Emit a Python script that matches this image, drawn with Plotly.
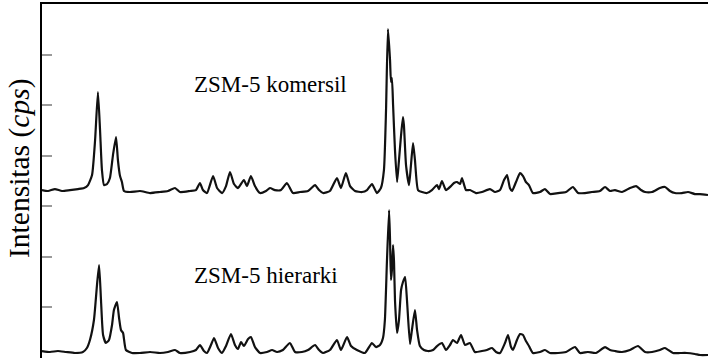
import plotly.graph_objects as go

# ZSM-5 hierarki (bottom pattern): 2-theta (deg) and intensity (cps)
two_theta_hierarki = [
    5.00, 5.42, 5.84, 6.26, 6.73, 7.15, 7.36, 7.52, 7.73, 7.89, 8.00, 8.10, 8.21, 8.36,
    8.52, 8.68, 8.78, 8.94, 9.05, 9.15, 9.26, 9.41, 9.73, 10.15, 10.68, 11.20, 11.62,
    11.99, 12.25, 12.78, 13.09, 13.30, 13.51, 13.67, 13.88, 14.04, 14.25, 14.46, 14.67,
    14.93, 15.14, 15.30, 15.46, 15.61, 15.83, 15.98, 16.19, 16.46, 16.82, 17.09, 17.35,
    17.66, 18.03, 18.30, 18.66, 18.98, 19.35, 19.56, 19.77, 20.13, 20.50, 20.71, 21.03,
    21.24, 21.55, 21.97, 22.34, 22.55, 22.76, 22.92, 23.02, 23.13, 23.24, 23.29, 23.34,
    23.39, 23.45, 23.50, 23.55, 23.66, 23.76, 23.87, 23.97, 24.08, 24.18, 24.34, 24.44,
    24.60, 24.71, 24.86, 25.07, 25.28, 25.55, 25.76, 26.02, 26.23, 26.44, 26.60, 26.81,
    27.02, 27.23, 27.49, 27.75, 28.12, 28.38, 28.65, 28.86, 29.07, 29.33, 29.49, 29.65,
    29.75, 29.96, 30.12, 30.28, 30.43, 30.59, 30.80, 31.17, 31.43, 31.70, 32.12, 32.54,
    33.01, 33.27, 33.69, 34.11, 34.59, 34.85, 35.11, 35.48, 35.90, 36.32, 36.69, 37.06,
    37.47, 37.74, 38.16, 38.53, 38.89, 39.31, 39.58, 40.00,
]
intensity_hierarki = [
    138, 119, 138, 119, 99, 119, 198, 356, 751, 1443, 1839, 1147, 455, 297,
    356, 652, 949, 1107, 791, 554, 494, 158, 99, 99, 119, 99, 119,
    158, 99, 119, 158, 257, 138, 99, 257, 395, 198, 99, 237,
    474, 257, 178, 316, 237, 376, 415, 217, 99, 119, 158, 119,
    158, 297, 119, 119, 158, 257, 158, 99, 158, 356, 158, 415,
    237, 158, 99, 297, 217, 257, 395, 751, 1937, 2926, 2333, 1542,
    1740, 2234, 1898, 1147, 494, 751, 1344, 1503, 1601, 1147, 277, 554,
    949, 554, 237, 158, 138, 158, 237, 297, 158, 257, 356, 297,
    455, 257, 297, 119, 138, 158, 198, 119, 99, 297, 455, 217,
    158, 356, 474, 455, 336, 237, 99, 119, 158, 99, 99, 119,
    217, 99, 119, 99, 217, 158, 138, 119, 158, 237, 119, 119,
    158, 198, 99, 99, 99, 79, 59, 59,
]

# ZSM-5 komersil (top pattern): 2-theta (deg) and intensity (cps)
two_theta_komersil = [
    5.00, 5.32, 5.68, 6.05, 6.47, 6.89, 7.21, 7.42, 7.63, 7.79, 7.94, 8.05, 8.15, 8.26,
    8.42, 8.57, 8.73, 8.89, 8.99, 9.10, 9.20, 9.31, 9.62, 10.15, 10.68, 11.20, 11.62,
    11.99, 12.25, 12.78, 13.09, 13.30, 13.46, 13.67, 13.99, 14.20, 14.46, 14.67, 14.88,
    15.09, 15.30, 15.61, 15.77, 15.98, 16.19, 16.46, 16.77, 16.98, 17.24, 17.56, 17.87,
    18.19, 18.56, 18.98, 19.35, 19.56, 19.77, 20.13, 20.50, 20.71, 20.97, 21.19, 21.45,
    21.82, 22.08, 22.34, 22.60, 22.81, 22.97, 23.08, 23.18, 23.29, 23.34, 23.39, 23.45,
    23.55, 23.66, 23.76, 23.87, 23.97, 24.02, 24.13, 24.29, 24.39, 24.50, 24.60, 24.76,
    24.97, 25.23, 25.49, 25.76, 25.86, 26.02, 26.23, 26.49, 26.65, 26.81, 26.97, 27.07,
    27.28, 27.49, 27.81, 28.12, 28.54, 28.81, 29.07, 29.28, 29.44, 29.59, 29.70, 29.91,
    30.12, 30.28, 30.43, 30.59, 30.80, 31.17, 31.43, 31.70, 32.12, 32.54, 32.90, 33.17,
    33.53, 33.90, 34.32, 34.59, 34.85, 35.11, 35.48, 35.90, 36.22, 36.48, 36.69, 37.06,
    37.47, 37.74, 38.00, 38.26, 38.63, 38.95, 39.31, 39.58, 40.00,
]
intensity_komersil = [
    121, 102, 141, 102, 121, 141, 161, 220, 418, 1110, 2059, 1308, 517, 220,
    240, 359, 813, 1169, 714, 398, 280, 102, 82, 102, 62, 82, 102,
    161, 82, 102, 121, 260, 121, 62, 398, 161, 62, 200, 477,
    240, 161, 319, 200, 398, 200, 62, 102, 161, 121, 121, 260,
    62, 82, 102, 220, 121, 62, 102, 359, 161, 457, 200, 102,
    82, 121, 240, 62, 161, 517, 1703, 3304, 2691, 2257, 2336, 1802,
    912, 280, 714, 1209, 1565, 1406, 616, 220, 616, 1051, 714, 121,
    82, 62, 121, 220, 141, 299, 121, 200, 260, 280, 240, 359,
    121, 121, 62, 82, 141, 82, 121, 319, 418, 161, 102, 280,
    457, 398, 280, 220, 62, 82, 141, 42, 62, 82, 181, 62,
    62, 82, 102, 181, 102, 121, 82, 161, 200, 121, 82, 82,
    161, 181, 102, 62, 62, 82, 42, 42, 23,
]

# vertical shift applied to the upper pattern so the two sit one above the other
komersil_offset = 3200

y_ticks = [0, 1000, 2000, 3000, 4000, 5000, 6000, 7000]

sample_labels = ["ZSM-5 komersil", "ZSM-5 hierarki"]
label_positions = [(12.88, 5417), (12.88, 1641)]

serif = "Liberation Serif, Times New Roman, serif"
line_style = dict(color="#111111", width=2.2, shape="spline", smoothing=0.5)

fig = go.Figure()
fig.add_trace(go.Scatter(
    x=two_theta_hierarki, y=intensity_hierarki,
    mode="lines", line=line_style, name=sample_labels[1],
))
fig.add_trace(go.Scatter(
    x=two_theta_komersil, y=[v + komersil_offset for v in intensity_komersil],
    mode="lines", line=line_style, name=sample_labels[0],
))

for text, (lx, ly) in zip(sample_labels, label_positions):
    fig.add_annotation(
        x=lx, y=ly, text=text, showarrow=False,
        xanchor="left", yanchor="middle",
        font=dict(family=serif, size=23, color="black"),
    )

# y-axis title, placed as a rotated annotation left of the axis line
fig.add_annotation(
    xref="paper", yref="paper", x=-0.034, y=0.535,
    text="Intensitas (<i>cps</i>)", textangle=-90, showarrow=False,
    xanchor="center", yanchor="middle",
    font=dict(family=serif, size=29.5, color="black"),
)

fig.update_layout(
    width=708, height=358,
    margin=dict(l=42, r=0, t=4, b=0),
    paper_bgcolor="white", plot_bgcolor="white",
    showlegend=False,
    xaxis=dict(
        range=[5, 40], side="top", showline=True, linecolor="black", linewidth=2,
        ticks="", showticklabels=False, showgrid=False, zeroline=False,
    ),
    yaxis=dict(
        range=[0, 7000], tickvals=y_ticks, ticks="inside", ticklen=10,
        tickcolor="#9a9a9a", tickwidth=1.5, showticklabels=False,
        showline=True, linecolor="black", linewidth=2,
        showgrid=False, zeroline=False, automargin=False,
    ),
)

fig.write_html("out.html")
